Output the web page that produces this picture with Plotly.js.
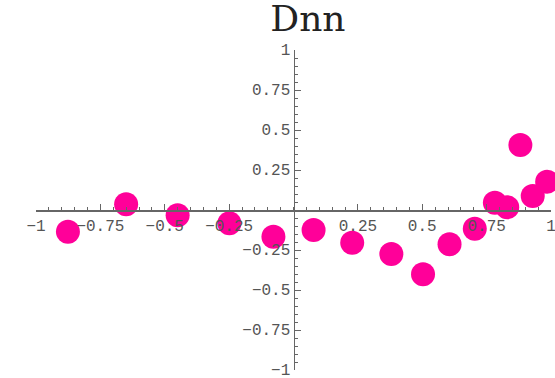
<!DOCTYPE html>
<html>
<head>
<meta charset="utf-8">
<script src="https://cdn.plot.ly/plotly-3.0.1.min.js"></script>
<style>
  html, body { margin: 0; padding: 0; background: #fff; }
  #chart { width: 555px; height: 378px; }
</style>
</head>
<body>
<div id="chart"></div>
<script>
// Dnn measurements
const xValues = [-0.876, -0.650, -0.450, -0.249, -0.078, 0.078, 0.228, 0.380, 0.503,
                 0.606, 0.704, 0.782, 0.830, 0.881, 0.929, 0.985];
const dnnValues = [-0.136, 0.036, -0.033, -0.083, -0.167, -0.125, -0.204, -0.275, -0.402,
                   -0.214, -0.117, 0.046, 0.017, 0.406, 0.0875, 0.177];

const xTickVals = [-1, -0.75, -0.5, -0.25, 0.25, 0.5, 0.75, 1];
const xTickText = ['−1', '−0.75', '−0.5', '−0.25', '0.25', '0.5', '0.75', '1'];
const yTickVals = [-1, -0.75, -0.5, -0.25, 0.25, 0.5, 0.75, 1];
const yTickText = ['−1', '−0.75', '−0.5', '−0.25', '0.25', '0.5', '0.75', '1'];

const tickFont = { family: 'Liberation Mono, monospace', size: 16, color: '#555' };
const axisColor = '#666';

const trace = {
  x: xValues,
  y: dnnValues,
  type: 'scatter',
  mode: 'markers',
  cliponaxis: false,
  marker: { size: 24, color: '#ff0099', line: { width: 0 } },
  hoverinfo: 'skip'
};

const commonAxis = {
  range: [-1, 1],
  showgrid: false,
  zeroline: false,
  showline: true,
  linecolor: axisColor,
  linewidth: 1.5,
  ticks: 'inside',
  ticklen: 6,
  tickwidth: 1,
  tickcolor: axisColor,
  tickmode: 'array',
  tickfont: tickFont,
  ticklabeloverflow: 'allow',
  minor: { tickmode: 'linear', tick0: 0, dtick: 0.05, ticks: 'inside', ticklen: 3, tickcolor: axisColor, tickwidth: 1 },
  anchor: 'free',
  position: 0.5,
  fixedrange: true
};

const layout = {
  width: 555,
  height: 378,
  margin: { l: 36, r: 4, t: 50, b: 8 },
  paper_bgcolor: '#fff',
  plot_bgcolor: '#fff',
  showlegend: false,
  title: {
    text: 'Dnn',
    font: { family: 'DejaVu Serif, serif', size: 36, color: '#222' },
    x: 0.528, xref: 'paper', xanchor: 'center',
    y: 0.985, yref: 'container', yanchor: 'top'
  },
  xaxis: Object.assign({}, commonAxis, { tickvals: xTickVals, ticktext: xTickText }),
  yaxis: Object.assign({}, commonAxis, { tickvals: yTickVals, ticktext: yTickText, ticklabelshift: -1 })
};

Plotly.newPlot('chart', [trace], layout, { displayModeBar: false, staticPlot: true });
</script>
</body>
</html>
